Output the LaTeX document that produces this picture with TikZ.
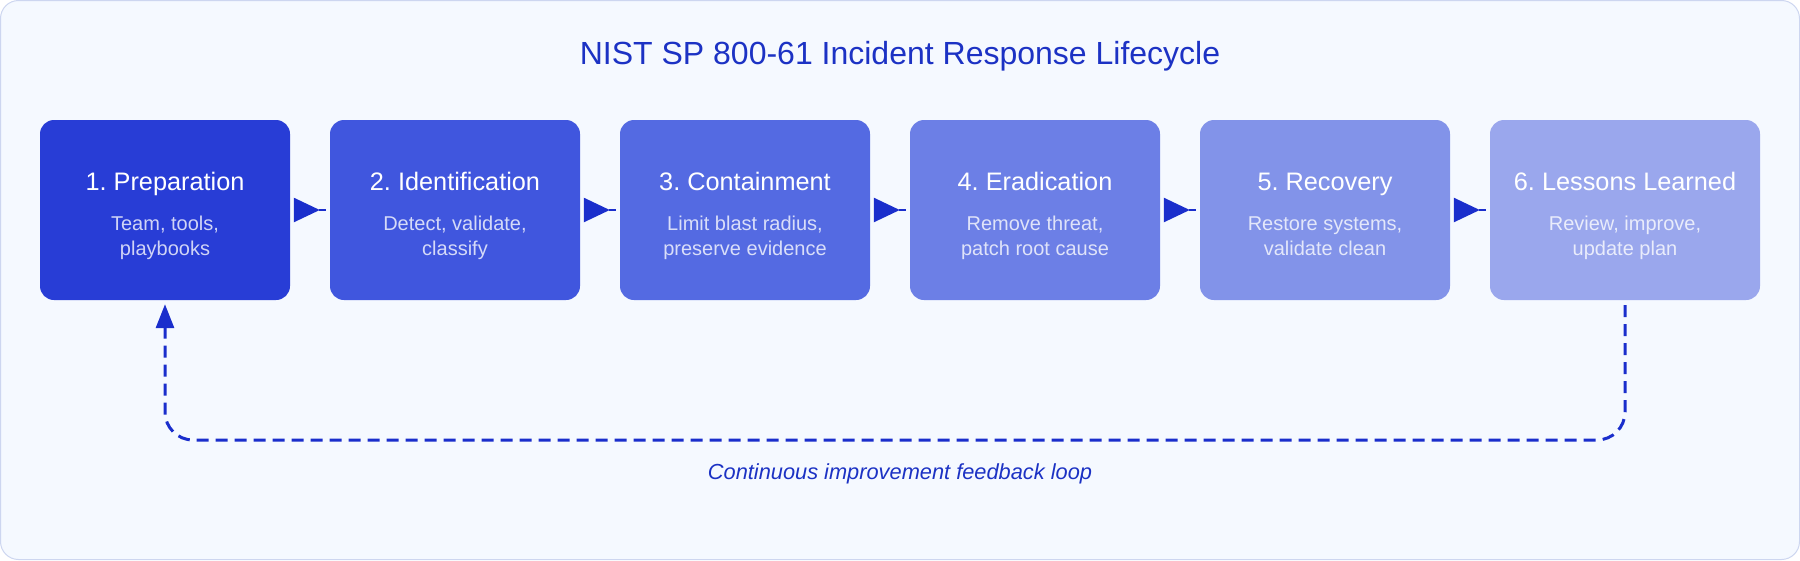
\documentclass[tikz,border=0pt]{standalone}
\usepackage{fontspec}
\setmainfont{Liberation Sans}
\usetikzlibrary{arrows.meta}
\frenchspacing
\definecolor{bg}{HTML}{F5F9FF}
\definecolor{frame}{HTML}{CDD6F0}
\definecolor{ink}{HTML}{1C32C4}
\definecolor{linec}{HTML}{1A2ECC}
\definecolor{c1}{HTML}{283DD6}
\definecolor{c2}{HTML}{4056DE}
\definecolor{c3}{HTML}{546AE2}
\definecolor{c4}{HTML}{6C7FE6}
\definecolor{c5}{HTML}{8293E9}
\definecolor{c6}{HTML}{9AA7ED}
\tikzset{
  stagebox/.style={rectangle, rounded corners=14pt, minimum height=180pt, inner sep=0pt, draw=none},
  stagetitle/.style={anchor=base, inner sep=0pt, text=white, font=\fontsize{25.3}{30}\selectfont},
  stagesub/.style={anchor=base, inner sep=0pt, font=\fontsize{20}{24}\selectfont},
  flow/.style={draw=linec, line width=2.5pt, shorten <=4pt, shorten >=10pt, -{Triangle[length=26pt,width=24pt]}},
  stub/.style={draw=linec, line width=2.5pt},
  loopline/.style={draw=linec, line width=3pt, dash pattern=on 12pt off 7pt, rounded corners=28pt, -{Triangle[length=24pt,width=18pt]}},
}
\newcommand{\stage}[7]{%
  \node[stagebox, fill=#4, minimum width=#3pt] (#1) at (#2,210) {};
  \node[stagetitle] (#1t) at ([yshift=20pt]#1.center) {#5};
  \node[stagesub, text=white!78!#4] (#1a) at ([yshift=-20pt]#1.center) {#6};
  \node[stagesub, text=white!78!#4] (#1b) at ([yshift=-45pt]#1.center) {#7};
}
\begin{document}
\begin{tikzpicture}[x=1pt,y=-1pt]
\useasboundingbox (0,0) rectangle (1800,560);
\path[fill=bg, draw=frame, line width=1pt, rounded corners=18pt] (0.5,0.5) rectangle (1799.5,559.5);
\node[anchor=base, inner sep=0pt, text=ink, font=\fontsize{32}{38}\selectfont] (title) at (900,64) {NIST SP 800-61 Incident Response Lifecycle};
\stage{b1}{165}{250}{c1}{1. Preparation}{Team, tools,}{playbooks}
\stage{b2}{455}{250}{c2}{2. Identification}{Detect, validate,}{classify}
\stage{b3}{745}{250}{c3}{3. Containment}{Limit blast radius,}{preserve evidence}
\stage{b4}{1035}{250}{c4}{4. Eradication}{Remove threat,}{patch root cause}
\stage{b5}{1325}{250}{c5}{5. Recovery}{Restore systems,}{validate clean}
\stage{b6}{1625}{270}{c6}{6. Lessons Learned}{Review, improve,}{update plan}
\foreach \a/\b in {b1/b2,b2/b3,b3/b4,b4/b5,b5/b6}{
  \draw[flow] (\a.east) -- (\b.west);
  \draw[stub] ([xshift=-11pt]\b.west) -- ([xshift=-4pt]\b.west);
}
\coordinate (lowy) at (0,440);
\draw[loopline] ([yshift=-5pt]b6.south) -- (b6.south |- lowy) -- (b1.south |- lowy) -- ([yshift=-4pt]b1.south);
\node[anchor=base, inner sep=0pt, text=ink, font=\fontsize{21.8}{26}\selectfont\itshape] (loopl) at (900,479) {Continuous improvement feedback loop};
\end{tikzpicture}
\end{document}
